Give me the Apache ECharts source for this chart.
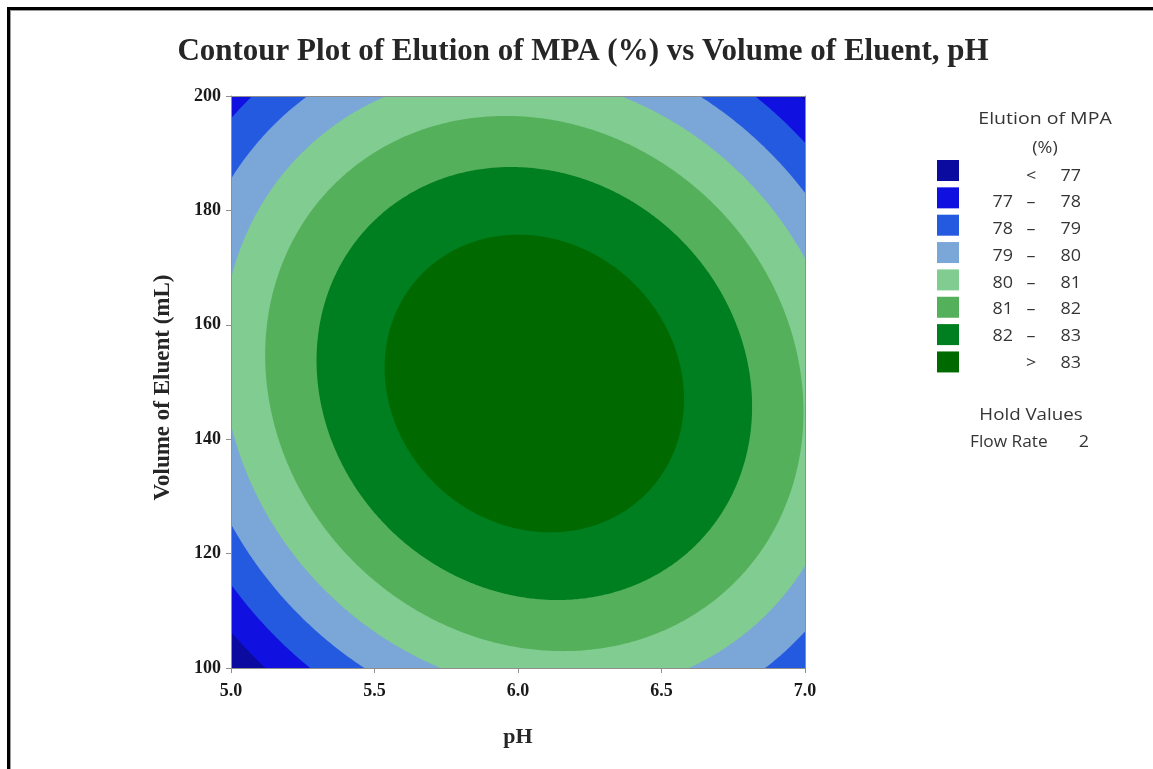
<!DOCTYPE html>
<html>
<head>
<meta charset="utf-8">
<script src="https://cdn.jsdelivr.net/npm/echarts@6/dist/echarts.min.js"></script>
<style>
  html, body { margin: 0; padding: 0; background: #ffffff; }
  #chart { width: 1153px; height: 769px; }
</style>
</head>
<body>
<div id="chart"></div>
<script>
// Fitted response surface for Elution of MPA (%), Flow Rate held at 2.
// Coded units: u = pH - 6, w = (Volume - 150) / 50
const termNames = ['Constant', 'pH', 'Volume', 'pH*pH', 'Volume*Volume', 'pH*Volume'];
const codedCoefs = [83.885, 0.375, 0.005, -3.33, -3.345, -0.71];

// Contour levels and band colours (lowest band first)
const contourLevels = [77, 78, 79, 80, 81, 82, 83];
const bandColors = ['#0b0ba0', '#1010e0', '#245ae0', '#7ba6d8', '#80cc91', '#55b05b', '#007f20', '#006a00'];

// Axis ranges and tick spacing
const phRange = [5, 7];
const phStep = 0.5;
const volumeRange = [100, 200];
const volumeStep = 20;

// Hold values
const holdNames = ['Flow Rate'];
const holdValues = [2];

const SERIF = '"Liberation Serif", "Times New Roman", serif';
const SANS = '"Open Sans", "Noto Sans", sans-serif';

// Stationary point of the quadratic surface
const [c0, a, b, A, B, C] = codedCoefs;
const det = 4 * A * B - C * C;
const u0 = (-a * 2 * B + b * C) / det;
const w0 = (-b * 2 * A + a * C) / det;
const fPeak = c0 + (a * u0 + b * w0) / 2;

// Boundary of the region where the response >= level, as data points
function levelBoundary(level, steps) {
  const pts = [];
  for (let i = 0; i < steps; i++) {
    const t = (i / steps) * Math.PI * 2;
    const d1 = Math.cos(t), d2 = Math.sin(t);
    const q = A * d1 * d1 + B * d2 * d2 + C * d1 * d2;
    const r = Math.sqrt((level - fPeak) / q);
    pts.push([6 + u0 + r * d1, 150 + 50 * (w0 + r * d2)]);
  }
  return pts;
}

const bandItems = bandColors.map((c, k) => [k]);

function renderBand(params, api) {
  const k = api.value(0);
  const cs = params.coordSys;
  const clip = { type: 'rect', shape: { x: cs.x, y: cs.y, width: cs.width, height: cs.height } };
  if (k === 0) {
    const p0 = api.coord([phRange[0], volumeRange[1]]);
    const p1 = api.coord([phRange[1], volumeRange[0]]);
    return {
      type: 'rect',
      shape: { x: p0[0], y: p0[1], width: p1[0] - p0[0], height: p1[1] - p0[1] },
      style: { fill: bandColors[0] }
    };
  }
  const pts = levelBoundary(contourLevels[k - 1], 720).map(p => api.coord(p));
  return {
    type: 'polygon',
    shape: { points: pts },
    style: { fill: bandColors[k] },
    clipPath: clip
  };
}

// Legend pieces
function bandLabel(k) {
  if (k === 0) return ['', '<', String(contourLevels[0])];
  if (k === bandColors.length - 1) return ['', '>', String(contourLevels[contourLevels.length - 1])];
  return [String(contourLevels[k - 1]), '\u2013', String(contourLevels[k])];
}

const LEG_FONT = '16px ' + SANS;
const LEG_COLOR = '#353535';
function legText(x, y, text, align, stretch) {
  return {
    type: 'text', x: x, y: y, scaleX: stretch || 1.12,
    style: { text: text, font: LEG_FONT, fill: LEG_COLOR, align: align, verticalAlign: 'middle' }
  };
}

const legendX = 937, swatchTop = 160, swatchStep = 27.35, textTop = 176, textStep = 26.75;
const legendGraphics = [];
bandColors.forEach((c, k) => {
  const lab = bandLabel(k);
  const ty = textTop + k * textStep;
  legendGraphics.push({
    type: 'rect', left: legendX, top: swatchTop + k * swatchStep,
    shape: { width: 22, height: 21 }, style: { fill: c }
  });
  legendGraphics.push(legText(1013, ty, lab[0], 'right'));
  legendGraphics.push(legText(1031, ty, lab[1], 'center'));
  legendGraphics.push(legText(1081, ty, lab[2], 'right'));
});
legendGraphics.push(
  legText(1045, 119, 'Elution of MPA', 'center', 1.22),
  legText(1045, 148, '(%)', 'center'),
  legText(1031, 415, 'Hold Values', 'center', 1.17),
  legText(970, 442, holdNames[0], 'left', 1.08),
  legText(1089, 442, String(holdValues[0]), 'right')
);

// Page frame
const frameGraphics = [
  { type: 'rect', left: 7, top: 7, shape: { width: 3, height: 762 }, style: { fill: '#000' } },
  { type: 'rect', left: 7, top: 7, shape: { width: 1146, height: 3 }, style: { fill: '#000' } },
  { type: 'rect', left: 10, top: 10, shape: { width: 1, height: 759 }, style: { fill: '#9a9a9a' } },
  { type: 'rect', left: 10, top: 10, shape: { width: 1143, height: 1 }, style: { fill: '#9a9a9a' } }
];

const axisGray = '#8f8f8f';
const chart = echarts.init(document.getElementById('chart'), null, { renderer: 'canvas' });
chart.setOption({
  animation: false,
  backgroundColor: '#ffffff',
  title: {
    text: 'Contour Plot of Elution of MPA (%) vs Volume of Eluent, pH',
    left: 578, top: 31, textAlign: 'center',
    textStyle: { fontFamily: SERIF, fontWeight: 'bold', fontSize: 31, color: '#262626' }
  },
  grid: { left: 231, top: 96, width: 574, height: 572 },
  xAxis: [{
    type: 'value', min: phRange[0], max: phRange[1], interval: phStep, position: 'bottom', z: 5,
    name: 'pH', nameLocation: 'middle', nameGap: 58,
    nameTextStyle: { fontFamily: SERIF, fontWeight: 'bold', fontSize: 22, color: '#262626' },
    axisLine: { show: true, onZero: false, lineStyle: { color: axisGray, width: 1 } },
    axisTick: { show: true, length: 5, lineStyle: { color: axisGray } },
    axisLabel: { fontFamily: SERIF, fontWeight: 'bold', fontSize: 18, color: '#1a1a1a', margin: 14,
      formatter: v => v.toFixed(1) },
    splitLine: { show: false }
  }, {
    type: 'value', min: phRange[0], max: phRange[1], position: 'top', z: 5,
    axisLine: { show: true, onZero: false, lineStyle: { color: axisGray, width: 1 } },
    axisTick: { show: false }, axisLabel: { show: false }, splitLine: { show: false }
  }],
  yAxis: [{
    type: 'value', min: volumeRange[0], max: volumeRange[1], interval: volumeStep, position: 'left', z: 5,
    name: 'Volume of Eluent (mL)', nameLocation: 'middle', nameGap: 56, nameRotate: 90,
    nameTextStyle: { fontFamily: SERIF, fontWeight: 'bold', fontSize: 23, color: '#262626', padding: [0, 11, 0, 0] },
    axisLine: { show: true, onZero: false, lineStyle: { color: axisGray, width: 1 } },
    axisTick: { show: true, length: 5, lineStyle: { color: axisGray } },
    axisLabel: { fontFamily: SERIF, fontWeight: 'bold', fontSize: 18, color: '#1a1a1a', margin: 10 },
    splitLine: { show: false }
  }, {
    type: 'value', min: volumeRange[0], max: volumeRange[1], position: 'right', z: 5,
    axisLine: { show: true, onZero: false, lineStyle: { color: axisGray, width: 1 } },
    axisTick: { show: false }, axisLabel: { show: false }, splitLine: { show: false }
  }],
  series: [{
    type: 'custom',
    name: 'Elution of MPA (%)',
    xAxisIndex: 0, yAxisIndex: 0,
    renderItem: renderBand,
    data: bandItems,
    z: 1,
    silent: true
  }],
  graphic: frameGraphics.concat(legendGraphics)
});
</script>
</body>
</html>
